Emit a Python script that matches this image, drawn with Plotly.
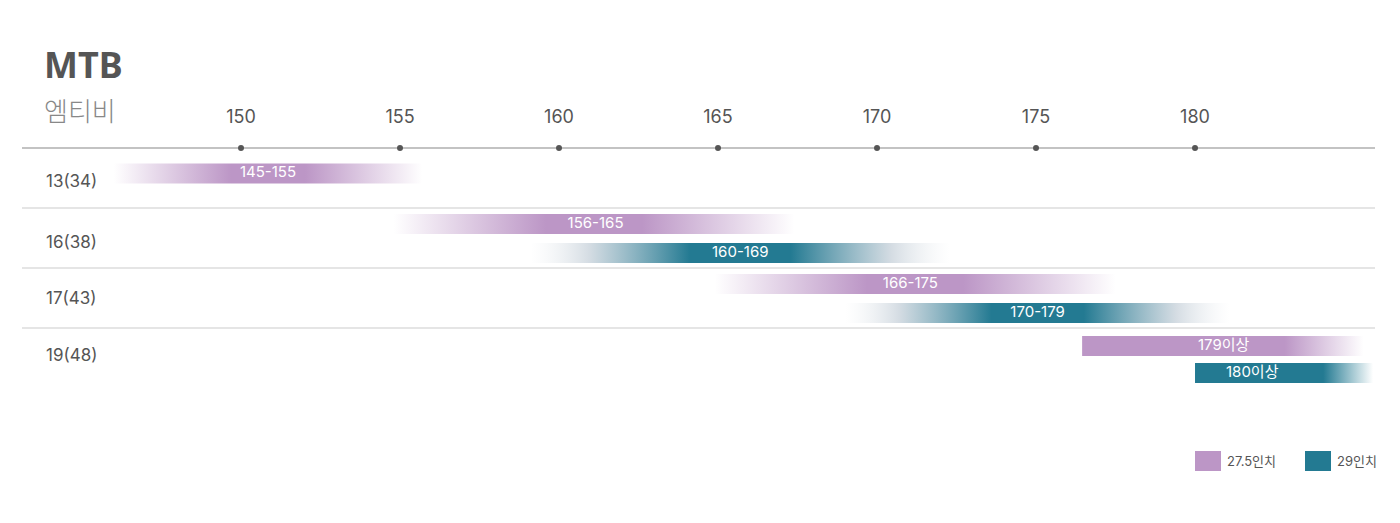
import plotly.graph_objects as go

# ---- data ----
rows = ["13(34)", "16(38)", "17(43)", "19(48)"]
tick_values = [150, 155, 160, 165, 170, 175, 180]
bar_labels = ["145-155", "156-165", "160-169", "166-175", "170-179", "179이상", "180이상"]
bar_series = ["27.5", "27.5", "29", "27.5", "29", "27.5", "29"]
bar_row = [0, 1, 1, 2, 2, 3, 3]
bar_start = [146.0, 154.8, 159.1, 164.9, 169.0, 176.45, 180.0]
bar_end = [155.7, 167.4, 172.3, 177.5, 181.1, 185.3, 185.6]
bar_label_x = [150.85, 161.15, 165.7, 171.05, 175.05, 180.9, 181.8]
bar_open_ended = [False, False, False, False, False, True, True]
legend_labels = ["27.5인치", "29인치"]

PINK = (188, 150, 198)
TEAL = (35, 122, 146)
series_color = {"27.5": PINK, "29": TEAL}


def rgba(c, a):
    return f"rgba({c[0]},{c[1]},{c[2]},{a})"


FONT = "Inter, Noto Sans CJK KR, sans-serif"
KFONT = "Noto Sans CJK KR, sans-serif"

# page is offset by 8px body margin; y axis expressed in page pixels
AXIS_Y = 148
ROW_H = 60
PW = 1353.0  # plot width in px (page x 22 .. 1375)


def row_top(i):
    return AXIS_Y + ROW_H * i


def px(xpage):
    return (xpage - 22) / PW


fig = go.Figure()

for i in range(len(bar_labels)):
    c = series_color[bar_series[i]]
    r = bar_row[i]
    members = [k for k in range(len(bar_row)) if bar_row[k] == r]
    idx_in_row = members.index(i)
    if len(members) == 1:
        yc = row_top(r) + 25.5
    else:
        yc = row_top(r) + (18 if r == 3 else 16) + (27 if r == 3 else 29) * idx_in_row
    h = 10
    x0, x1 = bar_start[i], bar_end[i]
    if bar_open_ended[i]:
        cs = [[0, rgba(c, 1)], [0.72, rgba(c, 1)], [1, rgba(c, 0)]]
    else:
        if c == TEAL:
            cs = [[0, "rgba(235,238,241,0)"], [0.14, "rgba(205,214,222,0.85)"],
                  [0.38, rgba(c, 1)], [0.62, rgba(c, 1)],
                  [0.86, "rgba(205,214,222,0.85)"], [1, "rgba(235,238,241,0)"]]
        else:
            cs = [[0, rgba(c, 0)], [0.38, rgba(c, 1)], [0.62, rgba(c, 1)], [1, rgba(c, 0)]]
    fig.add_trace(go.Scatter(
        x=[x0, x1, x1, x0, x0], y=[yc - h, yc - h, yc + h, yc + h, yc - h],
        fill="toself", mode="none",
        fillgradient=dict(type="horizontal", colorscale=cs),
        hoverinfo="skip", showlegend=False,
    ))
    fig.add_trace(go.Scatter(
        x=[bar_label_x[i]], y=[yc], mode="text", text=[bar_labels[i]],
        textfont=dict(family=FONT, size=15, color="white"),
        hoverinfo="skip", showlegend=False,
    ))

# tick labels and dots
fig.add_trace(go.Scatter(
    x=tick_values, y=[118] * len(tick_values), mode="text",
    text=[str(v) for v in tick_values],
    textfont=dict(family=FONT, size=18, color="#555555"),
    hoverinfo="skip", showlegend=False,
))
fig.add_trace(go.Scatter(
    x=tick_values, y=[AXIS_Y] * len(tick_values), mode="markers",
    marker=dict(size=6, color="#555555"),
    hoverinfo="skip", showlegend=False,
))

shapes = [dict(type="line", xref="paper", yref="y", x0=0, x1=1, y0=AXIS_Y, y1=AXIS_Y,
               line=dict(color="#888888", width=1.2), layer="below")]
for i in range(1, len(rows)):
    shapes.append(dict(type="line", xref="paper", yref="y", x0=0, x1=1,
                       y0=row_top(i), y1=row_top(i),
                       line=dict(color="#cccccc", width=1.2), layer="below"))

annotations = []
row_label_y = [181, 242, 298, 355]
for i, name in enumerate(rows):
    annotations.append(dict(xref="paper", yref="y", x=px(44), y=row_label_y[i],
                            text=name, showarrow=False, xanchor="left", yanchor="middle",
                            font=dict(family=FONT, size=17, color="#555555")))

annotations.append(dict(xref="paper", yref="y", x=px(42), y=64, text="<b>MTB</b>",
                        showarrow=False, xanchor="left", yanchor="middle",
                        font=dict(family="Noto Sans, sans-serif", size=36, color="#555555")))
annotations.append(dict(xref="paper", yref="y", x=px(42), y=109, text="엠티비",
                        showarrow=False, xanchor="left", yanchor="middle",
                        font=dict(family=KFONT, size=26, color="#888888", weight=300)))

leg_x = [1195, 1305]
for k, lab in enumerate(legend_labels):
    c = PINK if k == 0 else TEAL
    shapes.append(dict(type="rect", xref="paper", yref="y", x0=px(leg_x[k]), x1=px(leg_x[k] + 26),
                       y0=451, y1=471, fillcolor=rgba(c, 1), line=dict(width=0)))
    annotations.append(dict(xref="paper", yref="y", x=px(leg_x[k] + 30), y=461,
                            text=lab, showarrow=False, xanchor="left", yanchor="middle",
                            font=dict(family=FONT, size=13, color="#555555")))

fig.update_layout(
    width=1392, height=515,
    margin=dict(l=14, r=25, t=0, b=0),
    paper_bgcolor="white", plot_bgcolor="white",
    xaxis=dict(range=[143.113, 185.66], visible=False, fixedrange=True),
    yaxis=dict(range=[523, 8], visible=False, fixedrange=True),
    shapes=shapes, annotations=annotations,
    showlegend=False,
)

fig.write_html("out.html")
